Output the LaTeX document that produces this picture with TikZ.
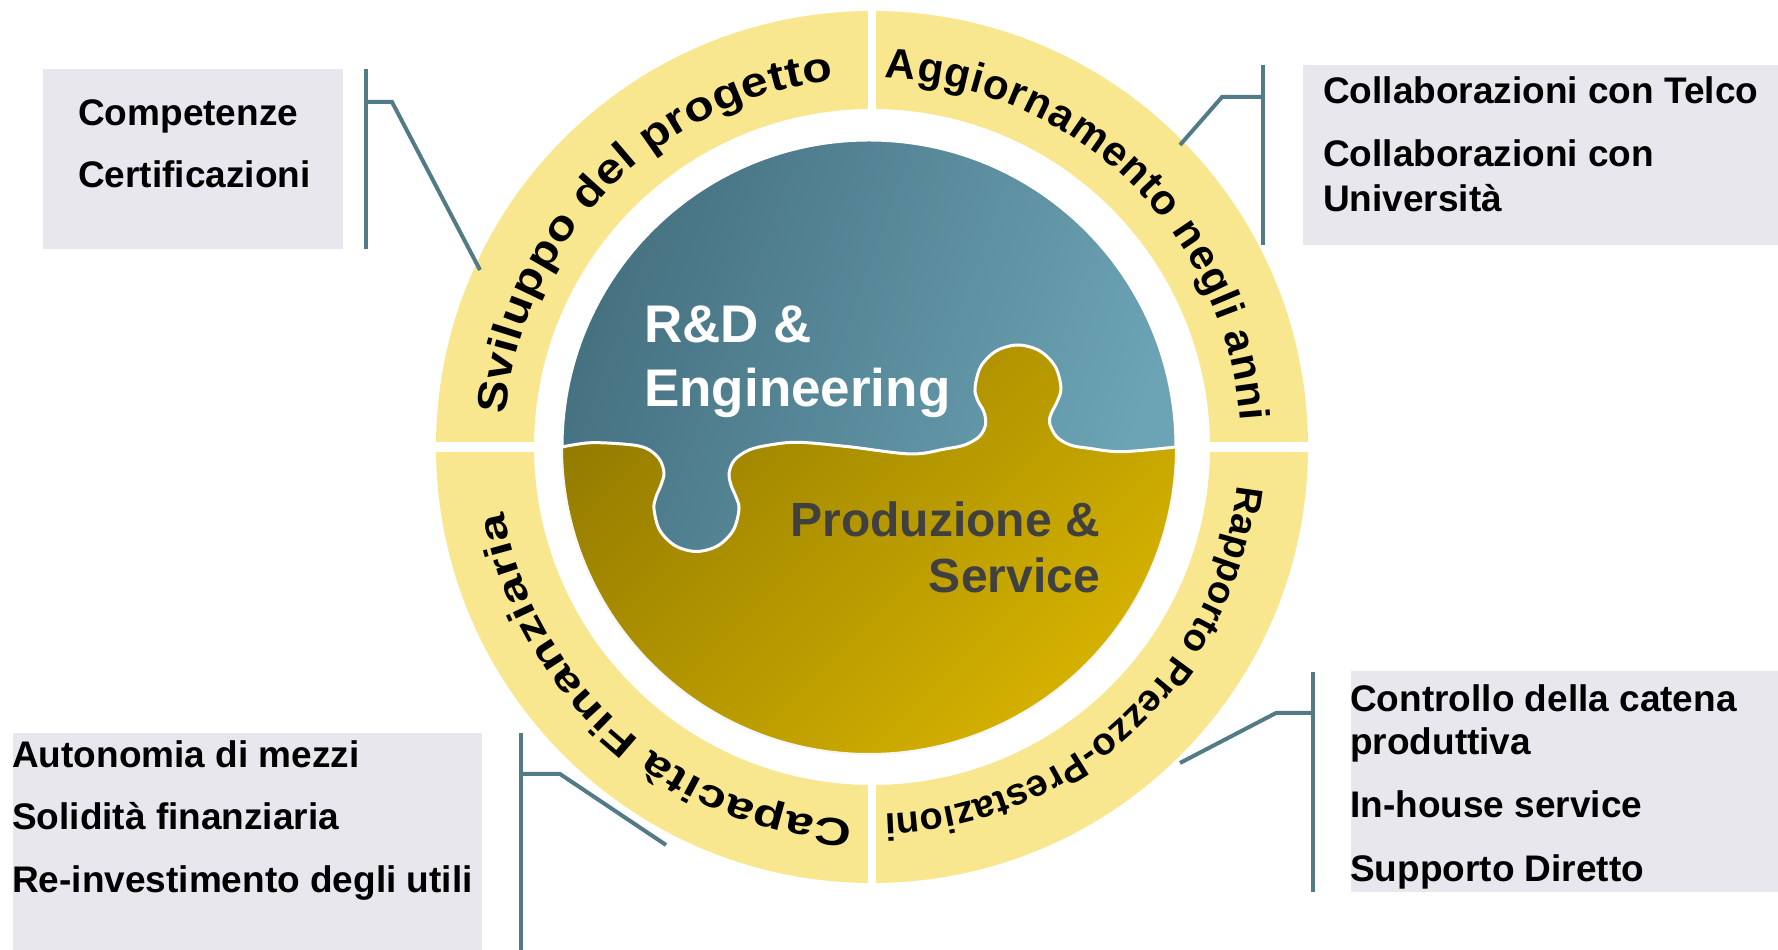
\documentclass[tikz,border=0pt]{standalone}
\usepackage{fontspec}
\setmainfont{Liberation Sans}
\newfontfamily\ringfamS{Liberation Sans}[FakeStretch=1.15]
\newfontfamily\ringfamC{Liberation Sans}[FakeStretch=1.3]
\usetikzlibrary{decorations.text}
\definecolor{ringY}{HTML}{F8E78F}
\definecolor{boxG}{HTML}{E8E7EE}
\definecolor{lineT}{HTML}{537B87}
\definecolor{tealD}{HTML}{457080}
\definecolor{tealL}{HTML}{6CA4B5}
\definecolor{goldD}{HTML}{887200}
\definecolor{goldL}{HTML}{D4B100}
\definecolor{txtG}{HTML}{404040}
\newcommand\ringfontS{\ringfamS\fontsize{42}{42}\selectfont\bfseries}
\newcommand\ringfontA{\fontsize{42}{42}\selectfont\bfseries}
\newcommand\ringfontB{\fontsize{38}{38}\selectfont\bfseries}
\newcommand\ringfontC{\ringfamC\fontsize{39}{39}\selectfont\bfseries}
\newcommand\boxfont{\fontsize{37}{37}\selectfont\bfseries}
\newcommand\rdfont{\fontsize{53}{53}\selectfont\bfseries}
\newcommand\prfont{\fontsize{48}{48}\selectfont\bfseries}
\begin{document}
\begin{tikzpicture}[x=1pt,y=1pt,
  boxfill/.style={fill=boxG},
  bracket/.style={draw=lineT, line width=4pt},
  itemtext/.style={anchor=base west, inner sep=0pt, font=\boxfont, text=black},
  ringtext/.style={decorate, decoration={text along path, text align=fit to path, text={#1}}}
]
\useasboundingbox (0,0) rectangle (1778,950);
\fill[white] (0,0) rectangle (1778,950);

% boxes
\fill[boxfill] (43,701) rectangle (343,881);
\fill[boxfill] (1303,705) rectangle (1778,885);
\fill[boxfill] (13,0) rectangle (482,217);
\fill[boxfill] (1351,58) rectangle (1778,279);

% box texts
\node[itemtext] (t11) at (78,824) {Competenze};
\node[itemtext] (t12) at (78,762) {Certificazioni};
\node[itemtext] (t21) at (1323,846) {Collaborazioni con Telco};
\node[itemtext] (t22) at (1323,783) {Collaborazioni con};
\node[itemtext] (t23) at (1323,738) {Università};
\node[itemtext] (t31) at (12,182) {Autonomia di mezzi};
\node[itemtext] (t32) at (12,120) {Solidità finanziaria};
\node[itemtext] (t33) at (12,57) {Re-investimento degli utili};
\node[itemtext] (t41) at (1350,238) {Controllo della catena};
\node[itemtext] (t42) at (1350,195) {produttiva};
\node[itemtext] (t43) at (1350,132) {In-house service};
\node[itemtext] (t44) at (1350,68) {Supporto Diretto};

% bracket coordinates
\coordinate (tlA) at (366,881); \coordinate (tlB) at (366,701);
\coordinate (tlV) at (366,848); \coordinate (tlK) at (392,848); \coordinate (tlE) at (480,680);
\coordinate (trA) at (1263,885); \coordinate (trB) at (1263,705);
\coordinate (trV) at (1263,853); \coordinate (trK) at (1222,853); \coordinate (trE) at (1180,805);
\coordinate (blA) at (521,217); \coordinate (blB) at (521,0);
\coordinate (blV) at (521,176); \coordinate (blK) at (560,176); \coordinate (blE) at (666,105);
\coordinate (brA) at (1313,278); \coordinate (brB) at (1313,58);
\coordinate (brV) at (1313,237); \coordinate (brK) at (1276,237); \coordinate (brE) at (1180,187);

% ring
\fill[ringY, even odd rule] (872,503) circle[radius=436] (872,503) circle[radius=338];
\draw[white, line width=10pt] (430,503) -- (1314,503);
\draw[white, line width=8pt] (872,60) -- (872,946);

% brackets
\draw[bracket] (tlA) -- (tlB);
\draw[bracket] (tlV) -- (tlK) -- (tlE);
\draw[bracket] (trA) -- (trB);
\draw[bracket] (trV) -- (trK) -- (trE);
\draw[bracket] (blA) -- (blB);
\draw[bracket] (blV) -- (blK) -- (blE);
\draw[bracket] (brA) -- (brB);
\draw[bracket] (brV) -- (brK) -- (brE);

% ring texts
\begin{scope}[shift={(872,503)}]
\path[ringtext={|\ringfontS|Sviluppo del progetto}] (175:368) arc[start angle=175, end angle=96, radius=368];
\path[ringtext={|\ringfontA|Aggiornamento negli anni}] (88:369) arc[start angle=88, end angle=4, radius=369];
\path[ringtext={|\ringfontB|Rapporto Prezzo-Prestazioni}] (-6:367) arc[start angle=-6, end angle=-88, radius=367];
\path[ringtext={|\ringfontC|Capacità Finanziaria}] (-93:374) arc[start angle=-93, end angle=-170, radius=374];
\end{scope}

% puzzle
\shade[left color=goldD, right color=goldL, shading angle=45, draw=white!92!gray, line width=2pt]
  (869,503) circle[radius=307];
\shade[left color=tealD, right color=tealL, shading angle=70, draw=white, line width=3pt]
  plot[smooth, tension=0.55] coordinates {(562,503) (591.5,507.3) (632.9,505) (649.5,500) (659.9,490) (664,477) (661,465) (656,453) (654,441) (659.7,419.8) (675.3,404.2) (696.5,398.5) (717.7,404.2) (733.3,419.8) (739,441) (736,453) (731,465) (729.1,477) (734.5,490) (749,500) (769.7,505) (798.8,507.7) (848.5,503.3) (910.7,496) (945,501) (964.6,505) (979.1,513.3) (985.5,525) (984,538) (977.5,550) (975,562) (980.8,583.5) (996.5,599.2) (1018,605) (1039.5,599.2) (1055.2,583.5) (1061,562) (1057,548) (1051,536) (1049.6,526.7) (1056.6,513.3) (1070.3,505) (1089,501.7) (1122.1,498.3) (1176,503)}
  arc[start angle=0, end angle=180, radius=307] -- cycle;

% puzzle texts
\node[anchor=base west, inner sep=0pt, font=\rdfont, text=white] (rd1) at (644,607) {R\&D \&};
\node[anchor=base west, inner sep=0pt, font=\rdfont, text=white] (rd2) at (644,543) {Engineering};
\node[anchor=base east, inner sep=0pt, font=\prfont, text=txtG] (pr1) at (1100,413) {Produzione \&};
\node[anchor=base east, inner sep=0pt, font=\prfont, text=txtG] (pr2) at (1100,357) {Service};
\end{tikzpicture}
\end{document}
